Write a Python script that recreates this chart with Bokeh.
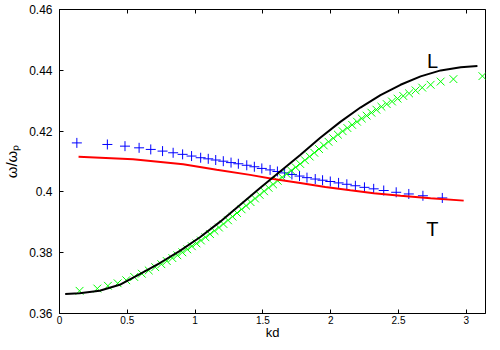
from bokeh.plotting import figure
from bokeh.models import FixedTicker, CustomJSTickFormatter, LinearAxis
from bokeh.core.properties import value
from bokeh.embed import file_html
from bokeh.resources import INLINE

# ---- data ----
x_ticks = [0, 0.5, 1, 1.5, 2, 2.5, 3]
y_ticks = [0.36, 0.38, 0.40, 0.42, 0.44, 0.46]

# transverse data points (blue +)
t_pts_x = [0.128, 0.353, 0.483, 0.587, 0.673, 0.760, 0.838, 0.908, 0.974, 1.041,
           1.097, 1.152, 1.208, 1.265, 1.319, 1.381, 1.437, 1.492, 1.553, 1.607,
           1.660, 1.714, 1.770, 1.825, 1.886, 1.940, 1.997, 2.058, 2.119, 2.182,
           2.249, 2.317, 2.391, 2.483, 2.576, 2.680, 2.823]
t_pts_y = [0.41612, 0.41560, 0.41505, 0.41450, 0.41397, 0.41342, 0.41287, 0.41235, 0.41179, 0.41124,
           0.41088, 0.41049, 0.41010, 0.40964, 0.40925, 0.40876, 0.40827, 0.40772, 0.40723, 0.40671,
           0.40625, 0.40573, 0.40521, 0.40469, 0.40423, 0.40384, 0.40342, 0.40296, 0.40251, 0.40202,
           0.40150, 0.40101, 0.40046, 0.39987, 0.39932, 0.39873, 0.39801]

# longitudinal data points (green x)
l_pts_x = [0.148, 0.279, 0.357, 0.429, 0.492, 0.551, 0.607, 0.658, 0.706, 0.751,
           0.791, 0.832, 0.869, 0.906, 0.942, 0.976, 1.010, 1.043, 1.076, 1.110,
           1.143, 1.176, 1.209, 1.243, 1.276, 1.309, 1.343, 1.376, 1.409, 1.442,
           1.476, 1.509, 1.542, 1.575, 1.609, 1.642, 1.675, 1.709, 1.742, 1.775,
           1.810, 1.845, 1.879, 1.914, 1.949, 1.984, 2.019, 2.053, 2.088, 2.123,
           2.158, 2.194, 2.229, 2.265, 2.300, 2.337, 2.374, 2.413, 2.452, 2.493,
           2.535, 2.578, 2.626, 2.675, 2.737, 2.811, 2.905, 3.119]
l_pts_y = [0.36746, 0.36821, 0.36912, 0.36993, 0.37094, 0.37202, 0.37309, 0.37417, 0.37524, 0.37622,
           0.37726, 0.37824, 0.37915, 0.38013, 0.38111, 0.38212, 0.38306, 0.38401, 0.38508, 0.38612,
           0.38720, 0.38827, 0.38945, 0.39065, 0.39186, 0.39306, 0.39427, 0.39547, 0.39664, 0.39782,
           0.39902, 0.40020, 0.40134, 0.40248, 0.40365, 0.40479, 0.40590, 0.40700, 0.40808, 0.40919,
           0.41042, 0.41163, 0.41287, 0.41410, 0.41528, 0.41648, 0.41765, 0.41883, 0.41997, 0.42101,
           0.42205, 0.42309, 0.42414, 0.42508, 0.42606, 0.42704, 0.42801, 0.42889, 0.42974, 0.43068,
           0.43156, 0.43241, 0.43339, 0.43430, 0.43524, 0.43629, 0.43710, 0.43808]

# longitudinal curve (black)
l_line_x = [0.042, 0.148, 0.296, 0.444, 0.592, 0.740, 0.888, 1.036, 1.183, 1.331, 1.479,
            1.627, 1.775, 1.923, 2.071, 2.219, 2.367, 2.515, 2.663, 2.811, 2.959, 3.082]
l_line_y = [0.36642, 0.36664, 0.36749, 0.36945, 0.37296, 0.37661, 0.38059, 0.38508, 0.39013, 0.39567, 0.40127,
            0.40674, 0.41212, 0.41782, 0.42303, 0.42775, 0.43182, 0.43524, 0.43801, 0.43997, 0.44104, 0.44143]

# transverse curve (red)
t_line_x = [0.1405, 0.5422, 0.9120, 1.1590, 1.4053, 1.5777, 1.7751, 1.9601, 2.1450, 2.3173, 2.5148, 2.7367, 2.9808]
t_line_y = [0.41156, 0.41072, 0.40909, 0.40730, 0.40560, 0.40423, 0.40290, 0.40163, 0.40052, 0.39958, 0.39876, 0.39795, 0.39713]

# curve labels
curve_names = ["L", "T"]
curve_name_x = [2.751, 2.749]
curve_name_y = [0.44296, 0.38769]

FONT = "Liberation Sans"

p = figure(width=492, height=342, x_range=(0, 3.1416), y_range=(0.36, 0.46),
           output_backend="svg", toolbar_location=None,
           min_border_left=59, min_border_right=7, min_border_top=9, min_border_bottom=27)
p.xgrid.visible = False
p.ygrid.visible = False
p.outline_line_color = "black"
p.outline_line_alpha = 1.0
p.outline_line_width = 1
p.background_fill_color = "white"
p.border_fill_color = "white"

fmt = CustomJSTickFormatter(code="return String(Math.round(tick*1000)/1000);")

xa = p.xaxis[0]
ya = p.yaxis[0]
xa.ticker = FixedTicker(ticks=x_ticks)
ya.ticker = FixedTicker(ticks=y_ticks)
for ax in (xa, ya):
    ax.formatter = fmt
    ax.major_tick_in = 4
    ax.major_tick_out = 0
    ax.minor_tick_line_color = None
    ax.axis_line_color = "black"
    ax.major_tick_line_color = "black"
    ax.major_label_text_color = "black"
    ax.major_label_text_font = FONT
    ax.axis_label_text_font = FONT
    ax.axis_label_text_font_style = "normal"
    ax.axis_label_text_color = "black"

xa.major_label_text_font_size = "10px"
xa.major_label_standoff = 2
xa.axis_label = "kd"
xa.axis_label_text_font_size = "13px"
xa.axis_label_standoff = -2

ya.major_label_text_font_size = "12px"
ya.major_label_standoff = 7
ya.axis_label = "ω/ωₚ"
ya.axis_label_text_font_size = "15px"
ya.axis_label_standoff = 6

# mirrored ticks on the top edge (no labels)
top = LinearAxis(ticker=FixedTicker(ticks=x_ticks), formatter=fmt,
                 major_tick_in=4, major_tick_out=0, minor_tick_line_color=None,
                 major_label_text_font_size="1px", major_label_text_color=None,
                 major_label_standoff=0,
                 axis_line_color="black", major_tick_line_color="black")
p.add_layout(top, "above")

# data
p.scatter(t_pts_x, t_pts_y, marker="cross", size=10, line_color="#0000ff", line_width=1)
p.scatter(l_pts_x, l_pts_y, marker="x", size=11, line_color="#00ff00", line_width=1)
p.line(t_line_x, t_line_y, line_color="#ff0000", line_width=2)
p.line(l_line_x, l_line_y, line_color="black", line_width=2)

p.text(curve_name_x, curve_name_y, text=curve_names, text_align="center",
       text_baseline="alphabetic", text_font=value(FONT),
       text_font_size=value("20px"), text_color="black")

open("out.html", "w").write(file_html(p, INLINE))
